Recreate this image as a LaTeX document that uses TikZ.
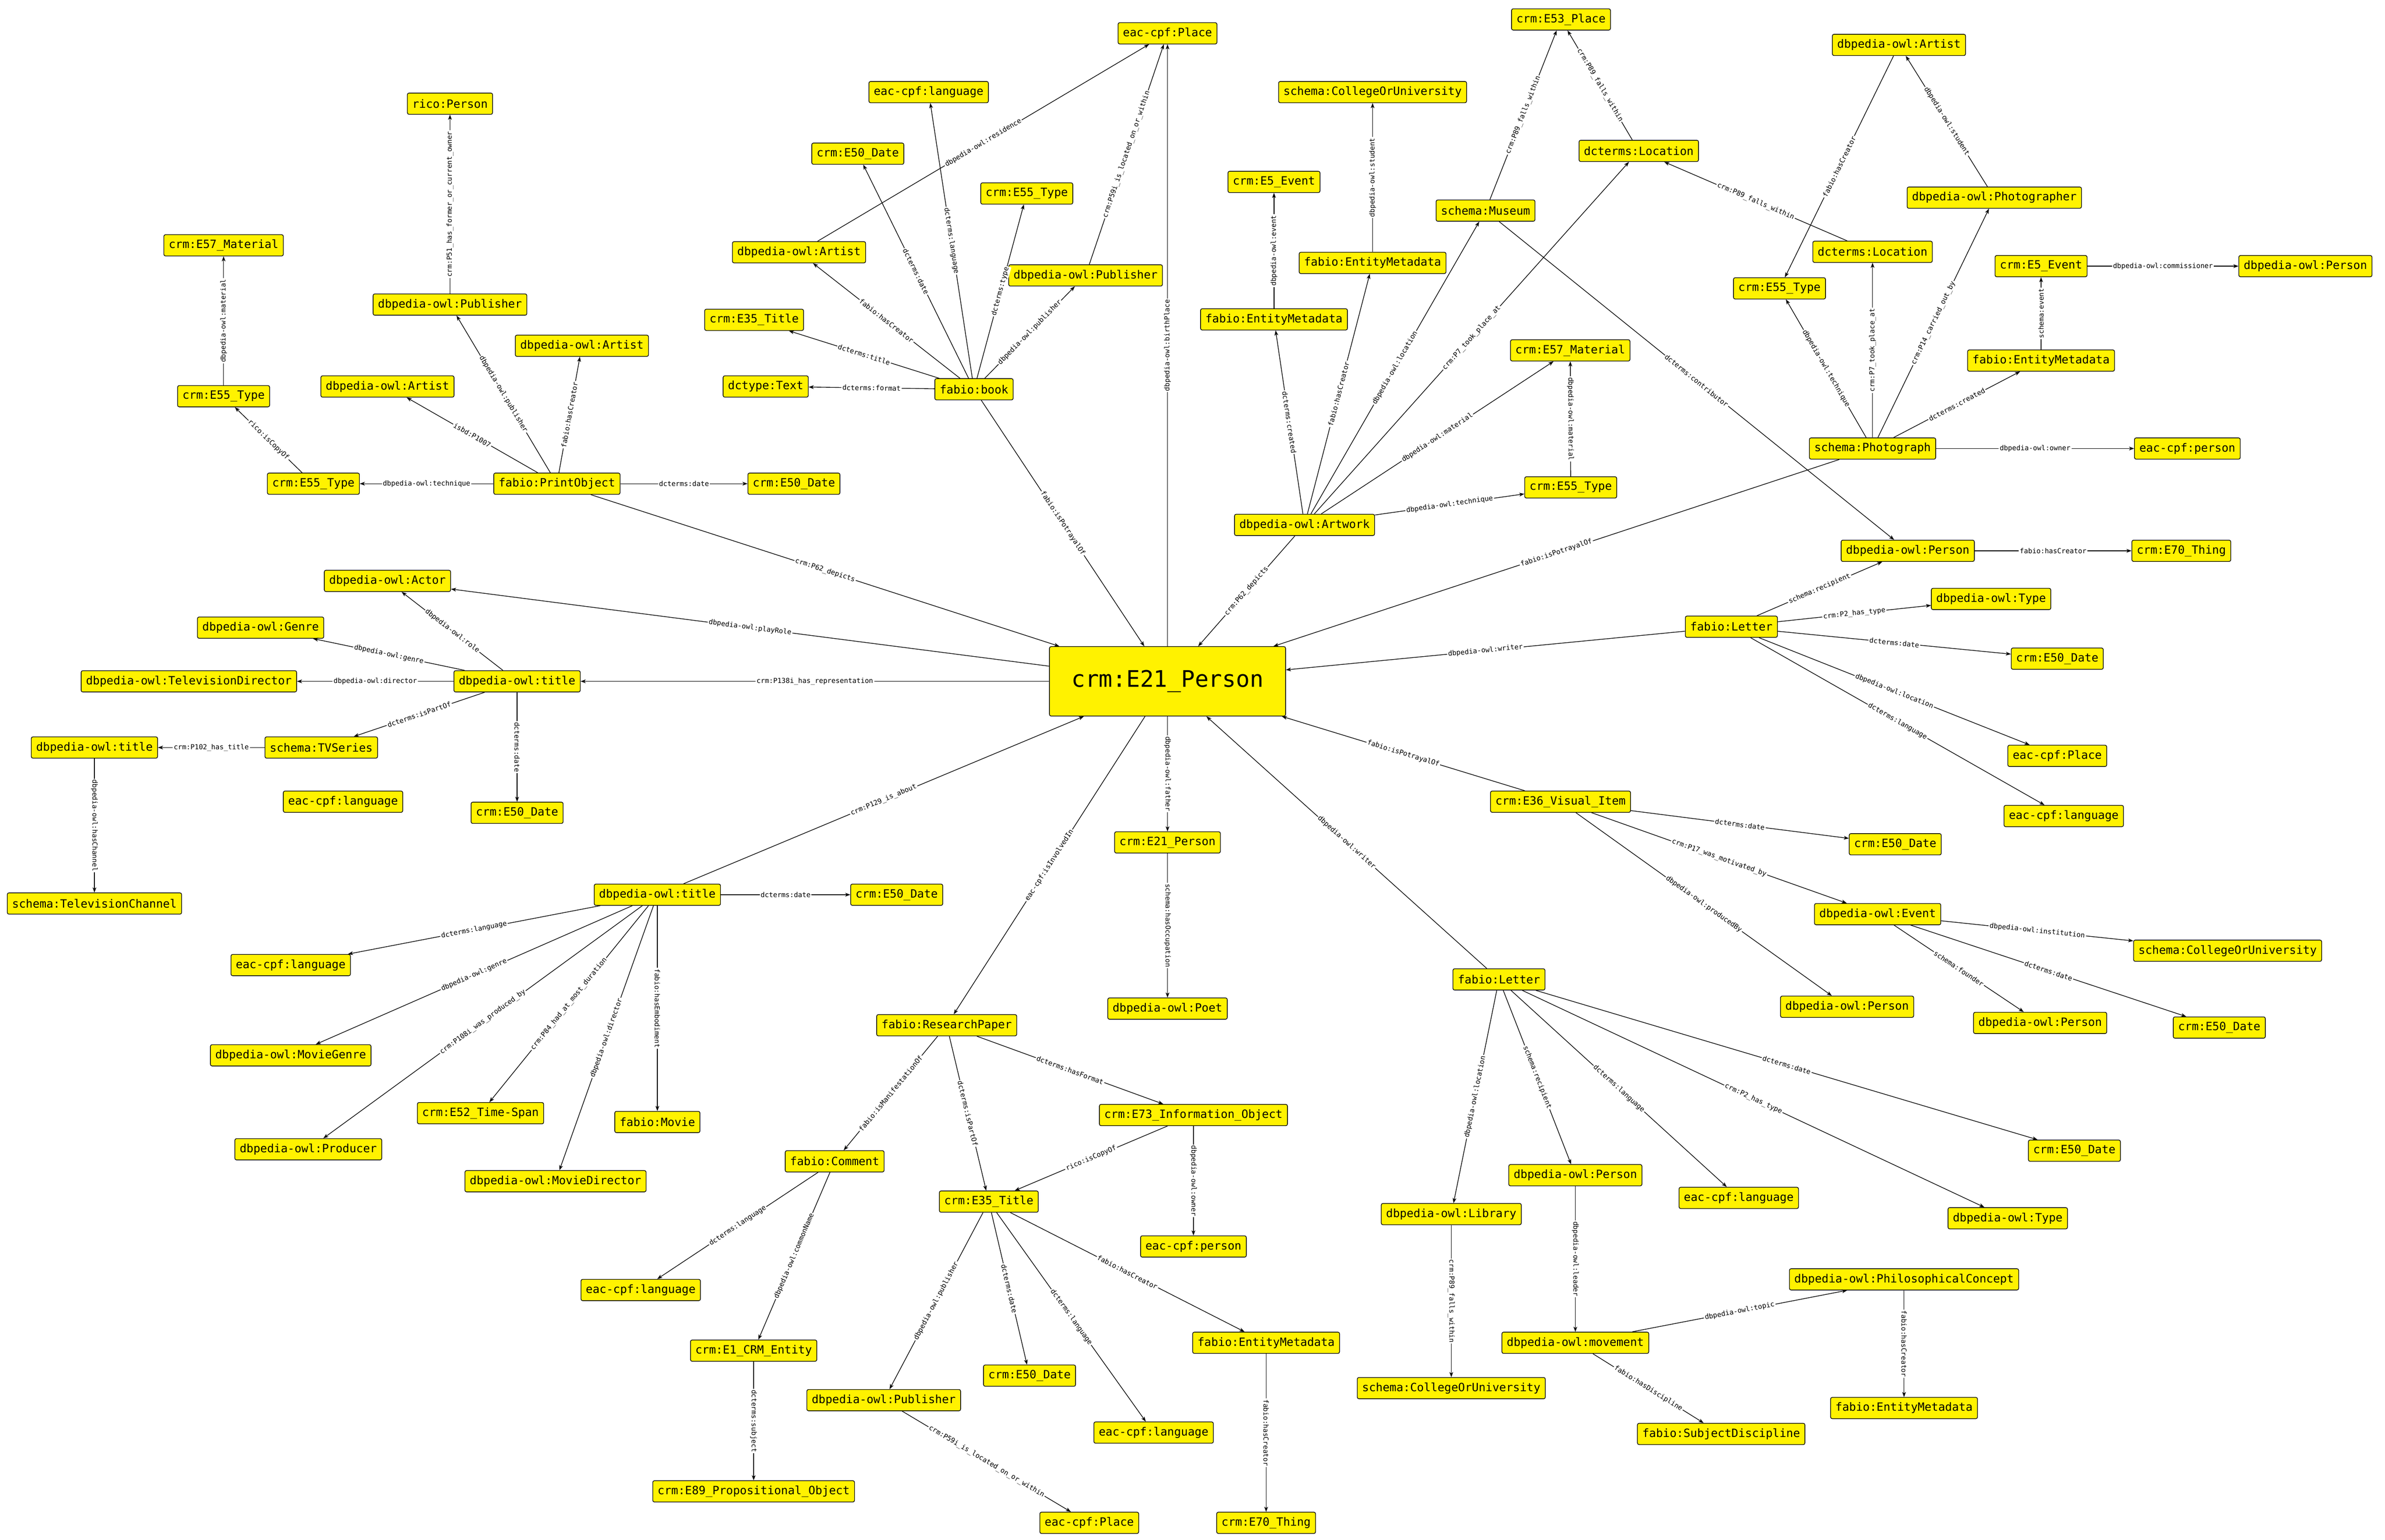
\documentclass[tikz,border=0pt]{standalone}
\usepackage{fontspec}
\setmonofont{DejaVu Sans Mono}
\usetikzlibrary{positioning,arrows.meta}

\begin{document}
\begin{tikzpicture}[
    on grid,
    cls/.style={draw, line width=0.4pt, fill=yellow, rounded corners=1pt,
        inner xsep=3pt, inner ysep=1pt, minimum height=4.6mm,
        font=\ttfamily\fontsize{7}{8}\selectfont},
    hub/.style={cls, minimum width=51mm, minimum height=15mm,
        font=\ttfamily\fontsize{14}{16}\selectfont},
    rel/.style={every edge/.style={draw, line width=0.4pt,
        -{Stealth[length=1.1mm, width=0.8mm, inset=0.3mm]}}},
    lbl/.style={midway, sloped, fill=white, inner sep=0.6pt,
        font=\ttfamily\fontsize{4.25}{5}\selectfont},
]
    \useasboundingbox (0,0) rectangle (515.2mm,-332.7mm);

    \node[hub] (person) at (252.2mm,-147.2mm) {crm:E21\_Person};

    \node[cls, above left=42.7mm and 131.9mm of person] (print) {fabio:PrintObject};
    \node[cls, left=52.6mm of print] (typeLb) {crm:E55\_Type};
    \node[cls, above left=18.9mm and 19.4mm of typeLb] (typeLa) {crm:E55\_Type};
    \node[cls, above=32.6mm of typeLa] (matL) {crm:E57\_Material};
    \node[cls, above left=21mm and 36.6mm of print] (artistL) {dbpedia-owl:Artist};
    \node[cls, above left=38.7mm and 23.1mm of print] (pubL) {dbpedia-owl:Publisher};
    \node[cls, above=43.4mm of pubL] (rico) {rico:Person};
    \node[cls, above right=29.8mm and 5.4mm of print] (artistR) {dbpedia-owl:Artist};
    \node[cls, right=51.2mm of print] (dateB) {crm:E50\_Date};

    \node[cls, above left=63.1mm and 41.8mm of person] (book) {fabio:book};
    \node[cls, above left=0.6mm and 45mm of book] (dctext) {dctype:Text};
    \node[cls, above left=15mm and 47.5mm of book] (titleA) {crm:E35\_Title};
    \node[cls, above left=29.6mm and 37.8mm of book] (artistU) {dbpedia-owl:Artist};
    \node[cls, above left=50.9mm and 25.1mm of book] (dateA) {crm:E50\_Date};
    \node[cls, above left=64.2mm and 9.8mm of book] (langA) {eac-cpf:language};
    \node[cls, above right=42.3mm and 11.4mm of book] (typeA) {crm:E55\_Type};
    \node[cls, above right=24.6mm and 24.1mm of book] (pubU) {dbpedia-owl:Publisher};
    \node[cls, above=140mm of person] (placeA) {eac-cpf:Place};

    \node[cls, above right=33.8mm and 29.6mm of person] (artwork) {dbpedia-owl:Artwork};
    \node[cls, above left=44.4mm and 6.6mm of artwork] (metaB) {fabio:EntityMetadata};
    \node[cls, above=29.7mm of metaB] (eventA) {crm:E5\_Event};
    \node[cls, above right=56.6mm and 14.7mm of artwork] (metaA) {fabio:EntityMetadata};
    \node[cls, above=36.9mm of metaA] (univA) {schema:CollegeOrUniversity};
    \node[cls, above right=67.9mm and 39.1mm of artwork] (museum) {schema:Museum};
    \node[cls, above right=41.3mm and 16.3mm of museum] (e53) {crm:E53\_Place};
    \node[cls, above right=12.9mm and 33.1mm of museum] (locA) {dcterms:Location};
    \node[cls, above right=37.7mm and 57.4mm of artwork] (matR) {crm:E57\_Material};
    \node[cls, above right=8.1mm and 57.5mm of artwork] (typeR) {crm:E55\_Type};

    \node[cls, above right=50.3mm and 152.3mm of person] (photo) {schema:Photograph};
    \node[cls, above left=34.6mm and 20.1mm of photo] (typeP) {crm:E55\_Type};
    \node[cls, above=42.5mm of photo] (locB) {dcterms:Location};
    \node[cls, above right=54.2mm and 26.3mm of photo] (photographer) {dbpedia-owl:Photographer};
    \node[cls, above left=33mm and 20.6mm of photographer] (artistTR) {dbpedia-owl:Artist};
    \node[cls, above right=19mm and 36.4mm of photo] (metaC) {fabio:EntityMetadata};
    \node[cls, above=20.4mm of metaC] (eventB) {crm:E5\_Event};
    \node[cls, right=57.1mm of eventB] (personTR) {dbpedia-owl:Person};
    \node[cls, right=68mm of photo] (personP) {eac-cpf:person};

    \node[cls, above right=11.8mm and 121.8mm of person] (letterA) {fabio:Letter};
    \node[cls, above right=16.4mm and 38.1mm of letterA] (personR) {dbpedia-owl:Person};
    \node[cls, right=59.1mm of personR] (thingR) {crm:E70\_Thing};
    \node[cls, above right=6mm and 56.1mm of letterA] (typeD) {dbpedia-owl:Type};
    \node[cls, below right=6.9mm and 70.4mm of letterA] (dateC) {crm:E50\_Date};
    \node[cls, below right=27.9mm and 70.4mm of letterA] (placeB) {eac-cpf:Place};
    \node[cls, below right=40.9mm and 71.8mm of letterA] (langB) {eac-cpf:language};

    \node[cls, below right=26mm and 84.9mm of person] (visual) {crm:E36\_Visual\_Item};
    \node[cls, below right=9.2mm and 72.3mm of visual] (dateE) {crm:E50\_Date};
    \node[cls, below right=24.3mm and 68.5mm of visual] (event) {dbpedia-owl:Event};
    \node[cls, below right=44.3mm and 61.9mm of visual] (personV) {dbpedia-owl:Person};
    \node[cls, below right=7.9mm and 75.6mm of event] (univB) {schema:CollegeOrUniversity};
    \node[cls, below right=23.5mm and 35.1mm of event] (personE) {dbpedia-owl:Person};
    \node[cls, below right=24.5mm and 73.8mm of event] (dateG) {crm:E50\_Date};

    \node[cls, below right=64.4mm and 71.6mm of person] (letterB) {fabio:Letter};
    \node[cls, below left=50.7mm and 10.3mm of letterB] (library) {dbpedia-owl:Library};
    \node[cls, below=37.6mm of library] (univC) {schema:CollegeOrUniversity};
    \node[cls, below right=42.3mm and 16.5mm of letterB] (personL) {dbpedia-owl:Person};
    \node[cls, below=36.2mm of personL] (movement) {dbpedia-owl:movement};
    \node[cls, above right=13.7mm and 71mm of movement] (concept) {dbpedia-owl:PhilosophicalConcept};
    \node[cls, below=27.8mm of concept] (metaE) {fabio:EntityMetadata};
    \node[cls, below right=19.7mm and 31.5mm of movement] (discipline) {fabio:SubjectDiscipline};
    \node[cls, below right=47.2mm and 51.8mm of letterB] (langD) {eac-cpf:language};
    \node[cls, below right=51.6mm and 109.9mm of letterB] (typeE) {dbpedia-owl:Type};
    \node[cls, below right=37mm and 124.3mm of letterB] (dateH) {crm:E50\_Date};

    \node[cls, below=34.8mm of person] (personS) {crm:E21\_Person};
    \node[cls, below=35.9mm of personS] (poet) {dbpedia-owl:Poet};

    \node[cls, below left=74.3mm and 47.7mm of person] (paper) {fabio:ResearchPaper};
    \node[cls, below left=29.4mm and 24.2mm of paper] (comment) {fabio:Comment};
    \node[cls, below left=27.8mm and 41.9mm of comment] (langE) {eac-cpf:language};
    \node[cls, below left=40.9mm and 17.5mm of comment] (entity) {crm:E1\_CRM\_Entity};
    \node[cls, below=30.4mm of entity] (prop) {crm:E89\_Propositional\_Object};
    \node[cls, below right=38.1mm and 9.1mm of paper] (titleB) {crm:E35\_Title};
    \node[cls, below right=19.4mm and 53.3mm of paper] (info) {crm:E73\_Information\_Object};
    \node[cls, below=28.4mm of info] (personQ) {eac-cpf:person};
    \node[cls, below left=42.9mm and 22.7mm of titleB] (pubB) {dbpedia-owl:Publisher};
    \node[cls, below right=26.5mm and 44.4mm of pubB] (placeC) {eac-cpf:Place};
    \node[cls, below right=37.6mm and 8.8mm of titleB] (dateI) {crm:E50\_Date};
    \node[cls, below right=49.9mm and 35.6mm of titleB] (langF) {eac-cpf:language};
    \node[cls, below right=30.5mm and 59.9mm of titleB] (metaD) {fabio:EntityMetadata};
    \node[cls, below=38.9mm of metaD] (thingB) {crm:E70\_Thing};

    \node[cls, left=140.5mm of person] (titleM) {dbpedia-owl:title};
    \node[cls, above left=21.7mm and 28mm of titleM] (actor) {dbpedia-owl:Actor};
    \node[cls, above left=11.6mm and 55.4mm of titleM] (genre) {dbpedia-owl:Genre};
    \node[cls, left=70.9mm of titleM] (tvdir) {dbpedia-owl:TelevisionDirector};
    \node[cls, below left=14.3mm and 42.3mm of titleM] (series) {schema:TVSeries};
    \node[cls, left=49mm of series] (titleF) {dbpedia-owl:title};
    \node[cls, below=33.7mm of titleF] (channel) {schema:TelevisionChannel};
    \node[cls, below=28.4mm of titleM] (dateD) {crm:E50\_Date};
    \node[cls, below right=11.7mm and 4.7mm of series] (langO) {eac-cpf:language};

    \node[cls, below left=46.1mm and 110.2mm of person] (titleL) {dbpedia-owl:title};
    \node[cls, right=51.7mm of titleL] (dateF) {crm:E50\_Date};
    \node[cls, below left=15.2mm and 79.2mm of titleL] (langC) {eac-cpf:language};
    \node[cls, below left=34.7mm and 79.2mm of titleL] (mgenre) {dbpedia-owl:MovieGenre};
    \node[cls, below left=55mm and 75.4mm of titleL] (producer) {dbpedia-owl:Producer};
    \node[cls, below left=47.2mm and 38.2mm of titleL] (span) {crm:E52\_Time-Span};
    \node[cls, below left=61.9mm and 22mm of titleL] (mdir) {dbpedia-owl:MovieDirector};
    \node[cls, below=49.1mm of titleL] (movie) {fabio:Movie};

    \path[rel]
        (pubL) edge node[lbl] {crm:P51\_has\_former\_or\_current\_owner} (rico)
        (typeLa) edge node[lbl] {dbpedia-owl:material} (matL)
        (typeLb) edge node[lbl] {rico:isCopyOf} (typeLa)
        (print) edge node[lbl] {dbpedia-owl:technique} (typeLb)
        (print) edge node[lbl] {isbd:P1007} (artistL)
        (print) edge node[lbl] {dbpedia-owl:publisher} (pubL)
        (print) edge node[lbl] {fabio:hasCreator} (artistR)
        (print) edge node[lbl] {dcterms:date} (dateB)
        (print) edge node[lbl] {crm:P62\_depicts} (person)
        (artistU) edge node[lbl] {dbpedia-owl:residence} (placeA)
        (book) edge node[lbl] {dcterms:language} (langA)
        (book) edge node[lbl] {dcterms:date} (dateA)
        (book) edge node[lbl] {dcterms:type} (typeA)
        (book) edge node[lbl] {dbpedia-owl:publisher} (pubU)
        (pubU) edge node[lbl] {crm:P59i\_is\_located\_on\_or\_within} (placeA)
        (book) edge node[lbl] {fabio:hasCreator} (artistU)
        (book) edge node[lbl] {dcterms:title} (titleA)
        (book) edge node[lbl] {dcterms:format} (dctext)
        (person) edge node[lbl] {dbpedia-owl:birthPlace} (placeA)
        (book) edge node[lbl] {fabio:isPotrayalOf} (person)
        (museum) edge node[lbl] {crm:P89\_falls\_within} (e53)
        (locA) edge node[lbl] {crm:P89\_falls\_within} (e53)
        (metaA) edge node[lbl] {dbpedia-owl:student} (univA)
        (metaB) edge node[lbl] {dbpedia-owl:event} (eventA)
        (artwork) edge node[lbl] {dcterms:created} (metaB)
        (artwork) edge node[lbl] {fabio:hasCreator} (metaA)
        (artwork) edge node[lbl] {dbpedia-owl:location} (museum)
        (artwork) edge node[lbl] {crm:P7\_took\_place\_at} (locA)
        (artwork) edge node[lbl] {dbpedia-owl:material} (matR)
        (typeR) edge node[lbl] {dbpedia-owl:material} (matR)
        (artwork) edge node[lbl] {dbpedia-owl:technique} (typeR)
        (artwork) edge node[lbl] {crm:P62\_depicts} (person)
        (museum) edge node[lbl] {dcterms:contributor} (personR)
        (locB) edge node[lbl] {crm:P89\_falls\_within} (locA)
        (artistTR) edge node[lbl] {fabio:hasCreator} (typeP)
        (photo) edge node[lbl] {dbpedia-owl:technique} (typeP)
        (photographer) edge node[lbl] {dbpedia-owl:student} (artistTR)
        (photo) edge node[lbl] {crm:P7\_took\_place\_at} (locB)
        (photo) edge node[lbl] {crm:P14\_carried\_out\_by} (photographer)
        (photo) edge node[lbl] {dcterms:created} (metaC)
        (metaC) edge node[lbl] {schema:event} (eventB)
        (eventB) edge node[lbl] {dbpedia-owl:commissioner} (personTR)
        (photo) edge node[lbl] {dbpedia-owl:owner} (personP)
        (photo) edge node[lbl] {fabio:isPotrayalOf} (person)
        (titleM) edge node[lbl] {dbpedia-owl:role} (actor)
        (titleM) edge node[lbl] {dbpedia-owl:genre} (genre)
        (titleM) edge node[lbl] {dbpedia-owl:director} (tvdir)
        (titleM) edge node[lbl] {dcterms:isPartOf} (series)
        (titleM) edge node[lbl] {dcterms:date} (dateD)
        (series) edge node[lbl] {crm:P102\_has\_title} (titleF)
        (titleF) edge node[lbl] {dbpedia-owl:hasChannel} (channel)
        (person) edge node[lbl] {dbpedia-owl:playRole} (actor)
        (person) edge node[lbl] {crm:P138i\_has\_representation} (titleM)
        (titleL) edge node[lbl] {dcterms:language} (langC)
        (titleL) edge node[lbl] {dbpedia-owl:genre} (mgenre)
        (titleL) edge node[lbl] {crm:P108i\_was\_produced\_by} (producer)
        (titleL) edge node[lbl] {crm:P84\_had\_at\_most\_duration} (span)
        (titleL) edge node[lbl] {dbpedia-owl:director} (mdir)
        (titleL) edge node[lbl] {fabio:hasEmbodiment} (movie)
        (titleL) edge node[lbl] {dcterms:date} (dateF)
        (titleL) edge node[lbl] {crm:P129\_is\_about} (person)
        (person) edge node[lbl] {eac-cpf:isInvolvedIn} (paper)
        (person) edge node[lbl] {dbpedia-owl:father} (personS)
        (personS) edge node[lbl] {schema:hasOccupation} (poet)
        (letterA) edge node[lbl] {dbpedia-owl:writer} (person)
        (visual) edge node[lbl] {fabio:isPotrayalOf} (person)
        (letterB) edge node[lbl] {dbpedia-owl:writer} (person)
        (visual) edge node[lbl] {dcterms:date} (dateE)
        (visual) edge node[lbl] {crm:P17\_was\_motivated\_by} (event)
        (visual) edge node[lbl] {dbpedia-owl:producedBy} (personV)
        (letterA) edge node[lbl] {schema:recipient} (personR)
        (personR) edge node[lbl] {fabio:hasCreator} (thingR)
        (letterA) edge node[lbl] {crm:P2\_has\_type} (typeD)
        (letterA) edge node[lbl] {dcterms:date} (dateC)
        (letterA) edge node[lbl] {dbpedia-owl:location} (placeB)
        (letterA) edge node[lbl] {dcterms:language} (langB)
        (event) edge node[lbl] {dbpedia-owl:institution} (univB)
        (event) edge node[lbl] {schema:founder} (personE)
        (event) edge node[lbl] {dcterms:date} (dateG)
        (paper) edge node[lbl] {fabio:isManifestationOf} (comment)
        (paper) edge node[lbl] {dcterms:isPartOf} (titleB)
        (paper) edge node[lbl] {dcterms:hasFormat} (info)
        (info) edge node[lbl] {rico:isCopyOf} (titleB)
        (info) edge node[lbl] {dbpedia-owl:owner} (personQ)
        (comment) edge node[lbl] {dcterms:language} (langE)
        (comment) edge node[lbl] {dbpedia-owl:commonName} (entity)
        (entity) edge node[lbl] {dcterms:subject} (prop)
        (titleB) edge node[lbl] {dbpedia-owl:publisher} (pubB)
        (titleB) edge node[lbl] {dcterms:date} (dateI)
        (titleB) edge node[lbl] {dcterms:language} (langF)
        (titleB) edge node[lbl] {fabio:hasCreator} (metaD)
        (pubB) edge node[lbl] {crm:P59i\_is\_located\_on\_or\_within} (placeC)
        (metaD) edge node[lbl] {fabio:hasCreator} (thingB)
        (letterB) edge node[lbl] {dbpedia-owl:location} (library)
        (letterB) edge node[lbl] {schema:recipient} (personL)
        (letterB) edge node[lbl] {dcterms:language} (langD)
        (letterB) edge node[lbl] {crm:P2\_has\_type} (typeE)
        (letterB) edge node[lbl] {dcterms:date} (dateH)
        (library) edge node[lbl] {crm:P89\_falls\_within} (univC)
        (personL) edge node[lbl] {dbpedia-owl:leader} (movement)
        (movement) edge node[lbl] {dbpedia-owl:topic} (concept)
        (movement) edge node[lbl] {fabio:hasDiscipline} (discipline)
        (concept) edge node[lbl] {fabio:hasCreator} (metaE);
\end{tikzpicture}
\end{document}
